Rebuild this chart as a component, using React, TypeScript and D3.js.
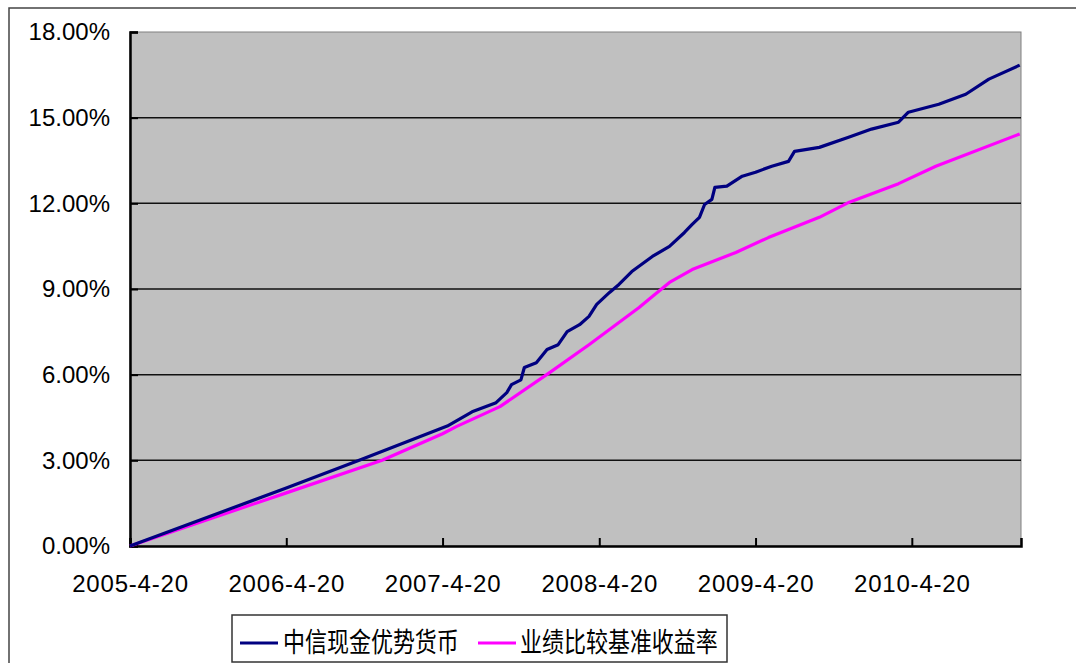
import { useEffect, useRef } from 'react';
import * as d3 from 'd3';

// 中信现金优势货币 cumulative return (%)
const fundSeries: [string, number][] = [
  ['2005-04-20', 0], ['2006-04-20', 2.03], ['2006-10-15', 3.05], ['2007-05-01', 4.2],
  ['2007-06-28', 4.7], ['2007-08-23', 5.02], ['2007-09-17', 5.37], ['2007-09-28', 5.65],
  ['2007-10-20', 5.82], ['2007-10-28', 6.25], ['2007-11-25', 6.42], ['2007-12-20', 6.88],
  ['2008-01-15', 7.05], ['2008-02-05', 7.51], ['2008-03-05', 7.75], ['2008-03-27', 8.04],
  ['2008-04-14', 8.46], ['2008-05-14', 8.88], ['2008-06-05', 9.16], ['2008-07-05', 9.61],
  ['2008-08-22', 10.14], ['2008-10-01', 10.49], ['2008-11-05', 10.98], ['2008-11-23', 11.26],
  ['2008-12-10', 11.51], ['2008-12-22', 11.96], ['2009-01-08', 12.14], ['2009-01-15', 12.56],
  ['2009-02-12', 12.6], ['2009-03-20', 12.95], ['2009-04-20', 13.09], ['2009-05-28', 13.3],
  ['2009-07-06', 13.47], ['2009-07-20', 13.82], ['2009-09-16', 13.96], ['2009-11-25', 14.32],
  ['2010-01-16', 14.6], ['2010-03-20', 14.84], ['2010-04-12', 15.19], ['2010-06-22', 15.47],
  ['2010-08-24', 15.82], ['2010-10-17', 16.35], ['2010-12-28', 16.84],
];

// 业绩比较基准收益率 (%)
const benchSeries: [string, number][] = [
  ['2005-04-20', 0], ['2006-04-20', 1.86], ['2006-11-30', 3.0], ['2007-04-20', 3.93],
  ['2007-05-22', 4.18], ['2007-09-01', 4.88], ['2007-12-26', 6.07], ['2008-03-27', 7.05],
  ['2008-07-22', 8.35], ['2008-08-22', 8.74], ['2008-10-01', 9.23], ['2008-11-23', 9.68],
  ['2009-03-05', 10.28], ['2009-05-20', 10.8], ['2009-09-16', 11.51], ['2009-11-25', 12.04],
  ['2010-03-20', 12.69], ['2010-06-15', 13.3], ['2010-12-28', 14.43],
];

const yTicks = [0, 3, 6, 9, 12, 15, 18];
const xTickDates = ['2005-04-20', '2006-04-20', '2007-04-20', '2008-04-20', '2009-04-20', '2010-04-20'];
const seriesNames = ['中信现金优势货币', '业绩比较基准收益率'];
const seriesColors = ['#000080', '#FF00FF'];

const parse = d3.timeParse('%Y-%m-%d');

export default function App() {
  const svgRef = useRef<SVGSVGElement>(null);

  useEffect(() => {
    if (!svgRef.current) return;
    const svg = d3.select(svgRef.current);
    svg.selectAll('*').remove();

    const left = 130, right = 1021, top = 32, bottom = 546;
    const x = d3.scaleTime()
      .domain([parse('2005-04-20')!, parse('2010-12-31')!])
      .range([left, right]);
    const y = d3.scaleLinear().domain([0, 18]).range([bottom, top]);

    // outer chart frame (runs off the picture at right/bottom)
    svg.append('rect')
      .attr('x', 9).attr('y', 8).attr('width', 1200).attr('height', 800)
      .attr('fill', '#fff').attr('stroke', '#444').attr('stroke-width', 1.5);

    // plot area
    svg.append('rect')
      .attr('x', left).attr('y', top).attr('width', right - left).attr('height', bottom - top)
      .attr('fill', '#C0C0C0').attr('stroke', '#808080').attr('stroke-width', 1);

    // gridlines
    svg.append('g').selectAll('line')
      .data(yTicks.filter(t => t > 0 && t < 18))
      .enter().append('line')
      .attr('x1', left).attr('x2', right)
      .attr('y1', d => y(d)).attr('y2', d => y(d))
      .attr('stroke', '#111').attr('stroke-width', 1.5);

    // y axis
    const yAxis = svg.append('g')
      .attr('transform', `translate(${left},0)`)
      .call(d3.axisLeft(y).tickValues(yTicks).tickSize(-8).tickPadding(20)
        .tickFormat(d => `${(+d).toFixed(2)}%`));
    yAxis.select('.domain').attr('stroke', '#000').attr('stroke-width', 2.5);
    yAxis.selectAll('.tick line').attr('stroke', '#000').attr('stroke-width', 2);
    yAxis.selectAll('.tick text')
      .attr('fill', '#000')
      .style('font-family', '"Liberation Sans", Arial, sans-serif')
      .style('font-size', '24px');

    // x axis
    const xAxis = svg.append('g')
      .attr('transform', `translate(0,${bottom})`)
      .call(d3.axisBottom(x).tickValues(xTickDates.map(d => parse(d)!)).tickSize(-8).tickPadding(29)
        .tickFormat(d => d3.timeFormat('%Y-%-m-%-d')(d as Date)));
    xAxis.select('.domain').attr('stroke', '#000').attr('stroke-width', 2.5);
    xAxis.selectAll('.tick line').attr('stroke', '#000').attr('stroke-width', 2);
    xAxis.selectAll('.tick text')
      .attr('fill', '#000')
      .style('font-family', '"Liberation Sans", Arial, sans-serif')
      .style('font-size', '24px')
      .style('letter-spacing', '0.8px');

    // series
    const line = d3.line<[string, number]>()
      .x(d => x(parse(d[0])!))
      .y(d => y(d[1]));

    [benchSeries, fundSeries].forEach((s, i) => {
      svg.append('path')
        .datum(s)
        .attr('d', line)
        .attr('fill', 'none')
        .attr('stroke', i === 0 ? seriesColors[1] : seriesColors[0])
        .attr('stroke-width', 3.2)
        .attr('stroke-linejoin', 'round');
    });

    // legend
    const lg = svg.append('g');
    lg.append('rect')
      .attr('x', 232).attr('y', 615).attr('width', 495).attr('height', 47)
      .attr('fill', '#fff').attr('stroke', '#333').attr('stroke-width', 1.5);
    const entries = [
      { x: 240, tx: 283 },
      { x: 478, tx: 520 },
    ];
    entries.forEach((e, i) => {
      lg.append('line')
        .attr('x1', e.x).attr('x2', e.x + 38).attr('y1', 643).attr('y2', 643)
        .attr('stroke', seriesColors[i]).attr('stroke-width', 3.2);
      lg.append('text')
        .attr('transform', `translate(${e.tx},641) scale(1,1.22)`)
        .attr('dominant-baseline', 'central')
        .style('font-family', '"Noto Sans CJK SC", sans-serif')
        .style('font-size', '22px')
        .attr('fill', '#000')
        .text(seriesNames[i]);
    });
  }, []);

  return (
    <svg
      ref={svgRef}
      width={1076}
      height={663}
      style={{ position: 'absolute', left: 0, top: 0, background: '#fff' }}
    />
  );
}
